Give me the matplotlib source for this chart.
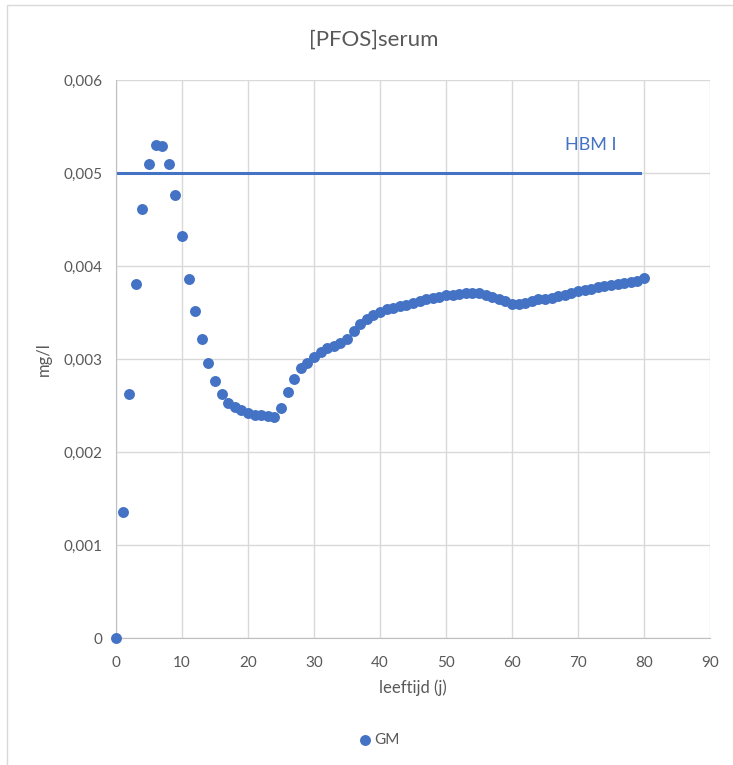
import numpy as np
import matplotlib
matplotlib.use("Agg")
import matplotlib.pyplot as plt
from matplotlib.ticker import FuncFormatter, MultipleLocator
from matplotlib.patches import Rectangle

plt.rcParams['font.family'] = ['Lato', 'DejaVu Sans']

# leeftijd (jaar) en geometrisch gemiddelde [PFOS] in serum (mg/l)
ages = list(range(0, 81))
gm = [0.0, 1.35, 2.62, 3.81, 4.61, 5.10, 5.30, 5.29, 5.10, 4.76,
      4.32, 3.86, 3.52, 3.22, 2.96, 2.76, 2.62, 2.53, 2.48, 2.45,
      2.42, 2.40, 2.40, 2.39, 2.38, 2.47, 2.64, 2.78, 2.90, 2.96,
      3.02, 3.07, 3.12, 3.14, 3.17, 3.21, 3.30, 3.38, 3.43, 3.47,
      3.51, 3.54, 3.55, 3.57, 3.58, 3.60, 3.62, 3.64, 3.66, 3.67,
      3.69, 3.69, 3.70, 3.71, 3.71, 3.71, 3.69, 3.67, 3.65, 3.62,
      3.59, 3.59, 3.60, 3.62, 3.64, 3.65, 3.66, 3.68, 3.69, 3.71,
      3.73, 3.74, 3.75, 3.77, 3.78, 3.80, 3.81, 3.82, 3.83, 3.84,
      3.87]
gm = [v / 1000 for v in gm]

hbm_x = [0, 79.4]
hbm_y = [0.005, 0.005]

blue = '#4472C4'
grey = '#595959'
gridc = '#D9D9D9'

fig = plt.figure(figsize=(7.33, 7.65), dpi=100)
ax = fig.add_axes([116 / 733, 1 - 638 / 765, 594 / 733, 558 / 765])

# kader rond de grafiek
fig.patches.append(Rectangle((7 / 733, -0.05), 1.2, 1.05 - 5 / 765,
                             transform=fig.transFigure, fill=False,
                             edgecolor='#D9D9D9', lw=1))

ax.plot(hbm_x, hbm_y, color=blue, lw=2.2, zorder=2)
ax.scatter(ages, gm, s=62, color=blue, zorder=3, label='GM', linewidths=0,
           clip_on=False)

ax.set_xlim(0, 90)
ax.set_ylim(0, 0.006)
ax.xaxis.set_major_locator(MultipleLocator(10))
ax.yaxis.set_major_locator(MultipleLocator(0.001))
ax.yaxis.set_major_formatter(FuncFormatter(
    lambda v, p: '0' if abs(v) < 1e-9 else f'{v:.3f}'.replace('.', ',')))
ax.grid(True, color=gridc, lw=1, zorder=0)
ax.set_axisbelow(True)
for s in ['top', 'right']:
    ax.spines[s].set_visible(False)
for s in ['left', 'bottom']:
    ax.spines[s].set_color('#BFBFBF')
ax.tick_params(length=0, labelsize=11, labelcolor=grey)
ax.tick_params(axis='y', pad=10)
ax.tick_params(axis='x', pad=13)

ax.set_xlabel('leeftijd (j)', fontsize=12, color=grey, labelpad=7)
ax.set_ylabel('mg/l', fontsize=12, color=grey, labelpad=8)

fig.text(374 / 733, 1 - 40 / 765, '[PFOS]serum', fontsize=16, color=grey,
         ha='center', va='center')
fig.text(591 / 733, 1 - 145 / 765, 'HBM I', fontsize=13, color=blue,
         ha='center', va='center')

fig.legend(loc='center', bbox_to_anchor=(376 / 733, 1 - 740 / 765),
           frameon=False, fontsize=11, labelcolor=grey, handletextpad=-0.2,
           handlelength=1.6, markerscale=1.0)

fig.savefig('out.png', dpi=100)
